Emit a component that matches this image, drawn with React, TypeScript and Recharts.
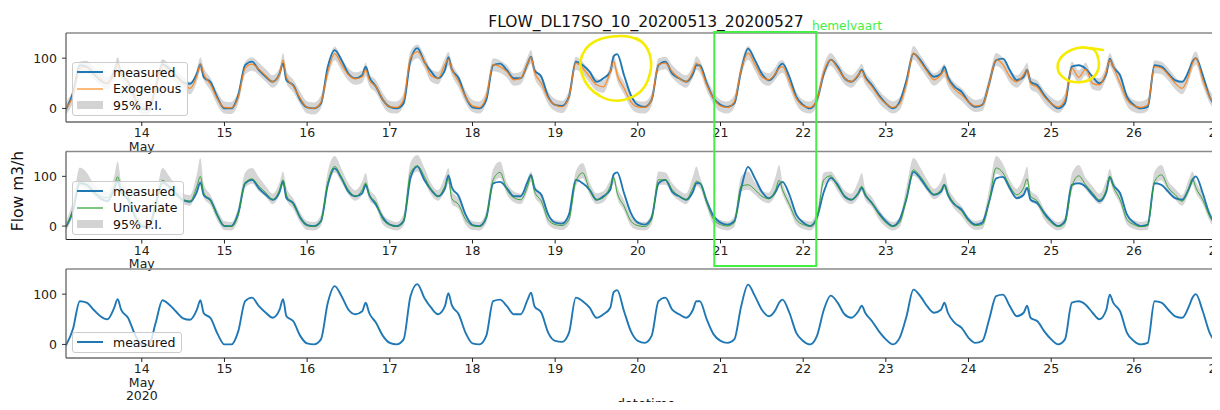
import React from "react"
import { Area, ComposedChart, Legend, Line, ReferenceLine, XAxis, YAxis } from "recharts"

// May 13 .. May 27 2020, values per day at these hours of the day
const slotHours = [0, 2, 4, 6, 8, 10, 12, 14, 16, 17, 18, 20, 22]
const firstDay = 13
const tickDays = [14, 15, 16, 17, 18, 19, 20, 21, 22, 23, 24, 25, 26, 27]
const yTicks = [0, 100]

const measured: (number | null)[][] = [
  [null, -2, 30, 86, 83, 69, 56, 50, 73, 90, 69, 53, 20],
  [-1, -2, 42, 88, 79, 65, 52, 49, 69, 88, 62, 52, 21],
  [0, 0, 26, 86, 93, 76, 63, 53, 69, 90, 56, 46, 17],
  [2, 0, 10, 83, 116, 96, 69, 60, 66, 83, 63, 43, 17],
  [3, 0, 10, 96, 120, 93, 73, 60, 76, 102, 78, 60, 23],
  [2, 0, 17, 86, 89, 76, 60, 60, 89, 103, 76, 63, 23],
  [7, 5, 23, 93, 86, 73, 53, 60, 73, 104, 108, 66, 26],
  [7, 3, 17, 86, 93, 69, 60, 53, 69, 86, 86, 50, 20],
  [7, 3, 10, 76, 119, 96, 69, 56, 69, 83, 89, 63, 23],
  [7, 0, 17, 69, 97, 83, 60, 53, 66, 77, 63, 46, 26],
  [10, 0, 13, 56, 109, 96, 76, 63, 69, 83, 63, 43, 33],
  [13, 3, 7, 50, 96, 99, 76, 56, 63, 77, 53, 46, 26],
  [10, 0, 10, 83, 86, 79, 63, 50, 69, 99, 83, 66, 23],
  [7, 0, 3, 86, 83, 69, 56, 53, 76, 93, 100, 66, 23],
  [3],
]

const exogenous: (number | null)[][] = [
  [null, 0, 25, 80, 82, 70, 58, 50, 70, 88, 68, 52, 22],
  [0, 0, 40, 85, 75, 63, 50, 40, 65, 88, 68, 47, 18],
  [2, 1, 22, 80, 88, 78, 65, 53, 68, 96, 62, 44, 20],
  [2, 0, 12, 73, 109, 87, 67, 59, 63, 77, 57, 43, 17],
  [3, 2, 17, 100, 113, 93, 65, 60, 87, 98, 78, 53, 23],
  [5, 2, 23, 87, 83, 73, 57, 60, 90, 102, 73, 50, 20],
  [7, 3, 23, 90, 80, 63, 47, 43, 73, 93, 67, 40, 13],
  [3, 2, 17, 87, 90, 73, 60, 53, 73, 90, 83, 47, 20],
  [5, 2, 13, 77, 110, 87, 63, 57, 70, 80, 83, 53, 20],
  [5, 2, 17, 73, 97, 80, 60, 53, 67, 75, 60, 43, 23],
  [10, 2, 9, 50, 110, 93, 73, 57, 67, 75, 57, 38, 27],
  [13, 5, 7, 50, 97, 87, 63, 53, 67, 77, 50, 42, 23],
  [10, 3, 17, 80, 62, 78, 50, 47, 73, 97, 83, 50, 17],
  [5, 2, 7, 83, 80, 67, 50, 40, 67, 90, 100, 57, 23],
  [5],
]

const exoLow: (number | null)[][] = [
  [null, -12, 12, 67, 70, 58, 46, 38, 58, 75, 56, 40, 10],
  [-12, -12, 27, 72, 63, 51, 38, 28, 53, 75, 56, 35, 6],
  [-10, -11, 10, 67, 75, 66, 53, 41, 56, 83, 50, 32, 8],
  [-10, -12, 0, 60, 96, 75, 55, 47, 51, 64, 45, 31, 5],
  [-9, -10, 5, 87, 100, 81, 53, 48, 75, 85, 66, 41, 11],
  [-7, -10, 11, 74, 71, 61, 45, 48, 78, 89, 61, 38, 8],
  [-5, -9, 11, 77, 68, 51, 35, 31, 61, 80, 55, 28, 1],
  [-9, -10, 5, 74, 78, 61, 48, 41, 61, 77, 71, 35, 8],
  [-7, -10, 1, 64, 97, 75, 51, 45, 58, 67, 71, 41, 8],
  [-7, -10, 5, 60, 85, 68, 48, 41, 55, 62, 48, 31, 11],
  [-2, -10, -3, 37, 97, 81, 61, 45, 55, 62, 45, 26, 15],
  [1, -7, -5, 37, 85, 75, 51, 41, 55, 64, 38, 30, 11],
  [-2, -9, 5, 67, 50, 66, 38, 35, 61, 84, 71, 38, 5],
  [-7, -10, -5, 70, 68, 55, 38, 28, 55, 77, 87, 45, 11],
  [-7],
]

const exoHigh: (number | null)[][] = [
  [null, 12, 38, 93, 95, 83, 71, 63, 83, 102, 81, 65, 35],
  [12, 12, 53, 98, 88, 76, 63, 53, 78, 102, 81, 60, 31],
  [14, 13, 35, 93, 102, 91, 78, 66, 81, 110, 75, 57, 33],
  [14, 12, 25, 86, 123, 100, 80, 72, 76, 91, 70, 56, 30],
  [15, 14, 30, 114, 127, 106, 78, 73, 100, 112, 91, 66, 36],
  [17, 14, 36, 100, 96, 86, 70, 73, 103, 116, 86, 63, 33],
  [19, 15, 36, 103, 93, 76, 60, 56, 86, 107, 80, 53, 26],
  [15, 14, 30, 100, 103, 86, 73, 66, 86, 104, 96, 60, 33],
  [17, 14, 26, 90, 124, 100, 76, 70, 83, 94, 96, 66, 33],
  [17, 14, 30, 86, 110, 93, 73, 66, 80, 89, 73, 56, 36],
  [22, 14, 22, 63, 124, 106, 86, 70, 80, 89, 70, 51, 40],
  [25, 17, 20, 63, 110, 100, 76, 66, 80, 91, 63, 55, 36],
  [22, 15, 30, 93, 76, 91, 63, 60, 86, 110, 96, 63, 30],
  [17, 14, 20, 96, 93, 80, 63, 53, 80, 104, 113, 70, 36],
  [17],
]

const univariate: (number | null)[][] = [
  [null, -1, 33, 90, 83, 70, 60, 57, 80, 99, 77, 60, 20],
  [3, -1, 37, 92, 80, 67, 53, 50, 80, 100, 67, 50, 20],
  [1, -1, 23, 87, 95, 80, 67, 53, 73, 93, 63, 43, 17],
  [1, -1, 10, 87, 120, 97, 73, 60, 73, 87, 63, 47, 13],
  [3, -1, 10, 107, 121, 100, 73, 60, 80, 95, 55, 43, 13],
  [1, -1, 17, 93, 108, 73, 57, 53, 80, 100, 70, 50, 13],
  [3, 1, 13, 90, 107, 73, 53, 57, 80, 97, 67, 40, 10],
  [1, -1, 13, 93, 93, 73, 60, 53, 77, 90, 87, 47, 13],
  [3, 0, 7, 80, 83, 73, 60, 55, 73, 92, 73, 43, 13],
  [3, 0, 17, 93, 101, 80, 60, 53, 67, 80, 63, 47, 23],
  [7, -1, 7, 57, 113, 100, 80, 63, 73, 83, 67, 43, 30],
  [10, 1, 3, 50, 117, 107, 80, 63, 77, 95, 60, 50, 23],
  [7, -1, 7, 80, 101, 83, 67, 53, 73, 100, 80, 53, 13],
  [3, -1, 1, 90, 103, 77, 63, 50, 77, 95, 77, 53, 20],
  [-1],
]

const uniLow: (number | null)[][] = [
  [null, -9, 22, 80, 74, 61, 51, 48, 70, 88, 67, 50, 10],
  [-6, -9, 25, 82, 70, 58, 44, 41, 70, 88, 57, 41, 10],
  [-8, -9, 12, 77, 85, 70, 58, 44, 63, 82, 53, 34, 7],
  [-8, -9, 0, 76, 108, 87, 63, 51, 63, 77, 53, 38, 3],
  [-6, -9, 0, 95, 110, 89, 63, 51, 70, 85, 45, 34, 3],
  [-8, -9, 6, 82, 97, 63, 48, 44, 70, 89, 60, 41, 3],
  [-6, -8, 3, 80, 96, 63, 44, 48, 70, 86, 57, 31, 0],
  [-8, -9, 3, 82, 83, 63, 51, 44, 67, 80, 76, 38, 3],
  [-6, -9, -2, 70, 73, 63, 51, 46, 63, 81, 63, 34, 3],
  [-6, -9, 6, 82, 90, 70, 51, 44, 57, 70, 53, 38, 13],
  [-2, -9, -2, 46, 101, 89, 70, 54, 63, 73, 57, 34, 20],
  [1, -8, -6, 40, 105, 96, 70, 54, 67, 84, 50, 41, 13],
  [-2, -9, -2, 70, 90, 73, 57, 44, 63, 89, 70, 44, 3],
  [-6, -9, -8, 80, 92, 67, 53, 41, 67, 84, 67, 44, 10],
  [-9],
]

const uniHigh: (number | null)[][] = [
  [null, 8, 50, 118, 108, 85, 72, 68, 100, 130, 92, 72, 32],
  [12, 8, 55, 117, 100, 80, 65, 62, 105, 137, 85, 62, 32],
  [10, 8, 38, 108, 117, 98, 80, 65, 88, 110, 78, 55, 28],
  [10, 8, 22, 110, 141, 115, 86, 72, 90, 107, 76, 58, 24],
  [12, 8, 24, 128, 143, 118, 86, 72, 100, 117, 72, 55, 24],
  [10, 8, 30, 115, 130, 88, 70, 65, 95, 110, 85, 62, 24],
  [12, 10, 26, 110, 127, 88, 66, 70, 92, 103, 80, 52, 21],
  [10, 8, 26, 110, 108, 86, 72, 65, 100, 120, 100, 58, 24],
  [12, 9, 20, 100, 110, 88, 72, 67, 100, 123, 88, 55, 24],
  [12, 9, 30, 108, 110, 92, 72, 65, 90, 107, 76, 58, 34],
  [16, 8, 18, 80, 137, 118, 93, 75, 90, 107, 80, 55, 40],
  [19, 10, 14, 75, 141, 125, 93, 75, 100, 120, 72, 60, 34],
  [16, 8, 18, 105, 123, 97, 80, 65, 92, 115, 93, 64, 24],
  [12, 8, 12, 110, 123, 90, 75, 62, 95, 110, 90, 64, 31],
  [8],
]

type Row = {
  t: number
  measured: number
  exo: number
  exoBand: [number, number]
  uni: number
  uniBand: [number, number]
}

const data: Row[] = []
measured.forEach((dayRow, d) => {
  dayRow.forEach((v, i) => {
    if (v === null) return
    data.push({
      t: d * 24 + slotHours[i],
      measured: v,
      exo: exogenous[d][i] as number,
      exoBand: [exoLow[d][i] as number, exoHigh[d][i] as number],
      uni: univariate[d][i] as number,
      uniBand: [uniLow[d][i] as number, uniHigh[d][i] as number],
    })
  })
})

const xTicks = tickDays.map((d) => (d - firstDay) * 24)

// layout
const W = 1220
const H = 410
const Y_AXIS_W = 66
const X_AXIS_H = 40
const T_START = 2
const T_END = 337
const FONT = '"DejaVu Sans", sans-serif'
const BLUE = "#1f77b4"
const ORANGE = "#ff7f0e"
const GREEN = "#2ca02c"
const BAND = "#d3d3d3"

const xOf = (t: number) => Y_AXIS_W + ((t - T_START) * (W - Y_AXIS_W)) / (T_END - T_START)

type LegendItem = { label: string; kind: "line" | "patch"; color: string; opacity?: number }

function PanelLegend({ items }: { items: LegendItem[] }) {
  return (
    <div
      style={{
        background: "rgba(255,255,255,0.8)",
        border: "1px solid #cccccc",
        borderRadius: 3,
        padding: "1px 6px 1px 4px",
        fontSize: 12.5,
        color: "#111",
        fontFamily: FONT,
      }}
    >
      {items.map((it) => (
        <div key={it.label} style={{ display: "flex", alignItems: "center", height: 16.5, whiteSpace: "nowrap" }}>
          <svg width={26} height={10} style={{ marginRight: 10, display: "block" }}>
            {it.kind === "line" ? (
              <line x1={0} x2={26} y1={5} y2={5} stroke={it.color} strokeWidth={2} strokeOpacity={it.opacity ?? 1} />
            ) : (
              <rect x={0} y={1} width={26} height={8} fill={it.color} />
            )}
          </svg>
          <span>{it.label}</span>
        </div>
      ))}
    </div>
  )
}

function DayTick(props: any) {
  const { x, y, payload, withYear } = props
  const first = payload.value === xTicks[0]
  return (
    <g transform={`translate(${x},${y})`} fontSize={12.5} fill="#222" textAnchor="middle">
      <text dy={9}>{firstDay + payload.value / 24}</text>
      {first && <text dy={22.5}>May</text>}
      {first && withYear && <text dy={35.5}>2020</text>}
    </g>
  )
}

type PanelProps = {
  top: number
  bottom: number
  model?: "exo" | "uni"
  modelColor?: string
  legendTop: number
  legendItems: LegendItem[]
  withYear?: boolean
}

function Panel({ top, bottom, model, modelColor, legendTop, legendItems, withYear }: PanelProps) {
  return (
    <div style={{ position: "absolute", left: 0, top: 0 }}>
      <ComposedChart
        width={W}
        height={H}
        data={data}
        margin={{ top, right: 0, bottom: H - bottom - X_AXIS_H, left: 0 }}
      >
        <XAxis
          dataKey="t"
          type="number"
          domain={[T_START, T_END]}
          ticks={xTicks}
          interval={0}
          height={X_AXIS_H}
          tickSize={4}
          tickMargin={2}
          axisLine={{ stroke: "#222", strokeWidth: 1.2 }}
          tickLine={{ stroke: "#222" }}
          tick={(p: any) => <DayTick {...p} withYear={withYear} />}
          allowDataOverflow
        />
        <YAxis
          type="number"
          domain={[-27, 150]}
          ticks={yTicks}
          width={Y_AXIS_W}
          tickSize={4}
          tickMargin={5}
          axisLine={{ stroke: "#555", strokeWidth: 1.2 }}
          tickLine={{ stroke: "#333" }}
          tick={{ fontSize: 12.5, fill: "#222" }}
          allowDataOverflow
        />
        <ReferenceLine y={150} stroke="#8a8a8a" strokeWidth={1.6} />
        {model && (
          <Area
            type="monotone"
            dataKey={model === "exo" ? "exoBand" : "uniBand"}
            stroke="none"
            fill={BAND}
            fillOpacity={0.95}
            isAnimationActive={false}
          />
        )}
        <Line type="monotone" dataKey="measured" stroke={BLUE} strokeWidth={1.9} dot={false} isAnimationActive={false} />
        {model && (
          <Line
            type="monotone"
            dataKey={model}
            stroke={modelColor}
            strokeWidth={model === "exo" ? 1.3 : 1}
            strokeOpacity={model === "exo" ? 0.85 : 0.9}
            dot={false}
            isAnimationActive={false}
          />
        )}
        <Legend
          layout="vertical"
          align="center"
          verticalAlign="middle"
          wrapperStyle={{ left: 72, top: legendTop, width: "auto", height: "auto" }}
          content={() => <PanelLegend items={legendItems} />}
        />
      </ComposedChart>
    </div>
  )
}

// hand drawn yellow marks, relative to a centre point
const scribble1 = (cx: number, cy: number) =>
  `M ${cx + 24} ${cy - 28} C ${cx + 12} ${cy - 36}, ${cx - 20} ${cy - 35}, ${cx - 31} ${cy - 19} ` +
  `C ${cx - 41} ${cy - 5}, ${cx - 34} ${cy + 17}, ${cx - 16} ${cy + 27} ` +
  `C ${cx + 1} ${cy + 37}, ${cx + 25} ${cy + 30}, ${cx + 32} ${cy + 11} ` +
  `C ${cx + 39} ${cy - 7}, ${cx + 34} ${cy - 24}, ${cx + 20} ${cy - 31}`

const scribble2 = (cx: number, cy: number) =>
  `M ${cx + 14} ${cy - 16} C ${cx} ${cy - 21}, ${cx - 16} ${cy - 13}, ${cx - 20} ${cy - 2} ` +
  `C ${cx - 23} ${cy + 10}, ${cx - 10} ${cy + 19}, ${cx + 4} ${cy + 17} ` +
  `C ${cx + 19} ${cy + 15}, ${cx + 23} ${cy + 3}, ${cx + 20} ${cy - 7} ` +
  `C ${cx + 19} ${cy - 13}, ${cx + 17} ${cy - 16}, ${cx + 12} ${cy - 17} L ${cx + 25} ${cy - 15}`

export default function App() {
  const boxLeft = xOf(190.2)
  const boxRight = xOf(219.8)
  return (
    <div
      style={{
        position: "relative",
        width: W,
        height: H,
        margin: -8,
        overflow: "hidden",
        background: "#fff",
        fontFamily: FONT,
      }}
    >
      <Panel
        top={33}
        bottom={122}
        model="exo"
        modelColor={ORANGE}
        legendTop={62}
        legendItems={[
          { label: "measured", kind: "line", color: BLUE },
          { label: "Exogenous", kind: "line", color: ORANGE, opacity: 0.55 },
          { label: "95% P.I.", kind: "patch", color: BAND },
        ]}
      />
      <Panel
        top={151.5}
        bottom={239.5}
        model="uni"
        modelColor={GREEN}
        legendTop={181}
        legendItems={[
          { label: "measured", kind: "line", color: BLUE },
          { label: "Univariate", kind: "line", color: GREEN, opacity: 0.6 },
          { label: "95% P.I.", kind: "patch", color: BAND },
        ]}
      />
      <Panel
        top={269}
        bottom={358}
        legendTop={332}
        withYear
        legendItems={[{ label: "measured", kind: "line", color: BLUE }]}
      />
      <svg
        width={W}
        height={H}
        style={{ position: "absolute", left: 0, top: 0, pointerEvents: "none" }}
        fontFamily={FONT}
      >
        <text x={646} y={27} textAnchor="middle" fontSize={15.5} fill="#111">
          FLOW_DL17SO_10_20200513_20200527
        </text>
        <text x={812} y={30} fontSize={12.2} fill="#44ee44">
          hemelvaart
        </text>
        <rect x={boxLeft} y={32} width={boxRight - boxLeft} height={234} fill="none" stroke="#44ee44" strokeWidth={2} />
        <path d={scribble1(616, 69)} fill="none" stroke="#f6ec00" strokeWidth={2.6} strokeLinecap="round" />
        <path d={scribble2(1078, 65)} fill="none" stroke="#f6ec00" strokeWidth={2.6} strokeLinecap="round" />
        <text
          x={18}
          y={191}
          transform="rotate(-90, 18, 191)"
          textAnchor="middle"
          dominantBaseline="central"
          fontSize={15.5}
          fill="#111"
        >
          Flow m3/h
        </text>
        <text x={646} y={408} textAnchor="middle" fontSize={13} fill="#111">
          datetime
        </text>
      </svg>
    </div>
  )
}
